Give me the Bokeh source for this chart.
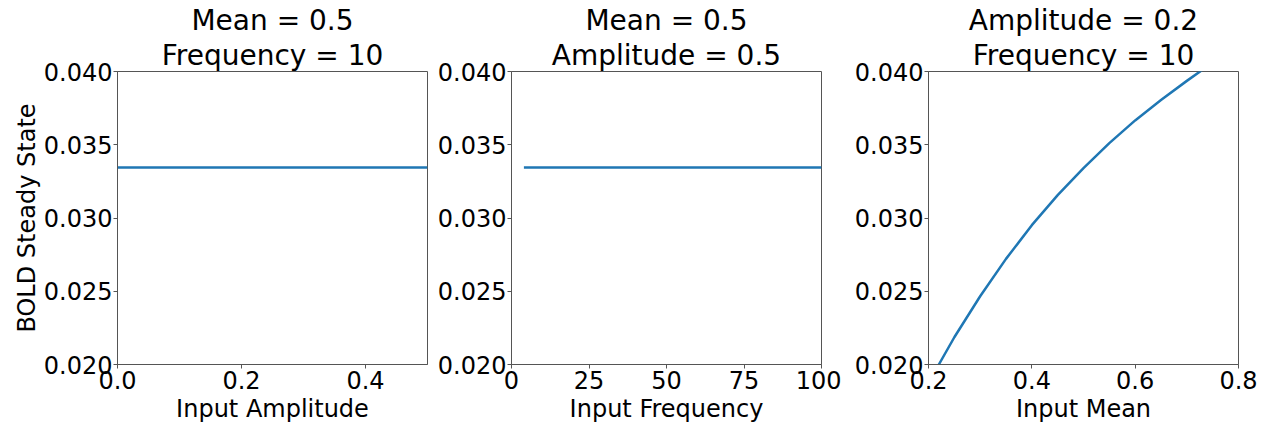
from bokeh.plotting import figure
from bokeh.layouts import row
from bokeh.models import Range1d, FixedTicker, PrintfTickFormatter, Title
from bokeh.embed import file_html
from bokeh.resources import INLINE

# ---- data ----
amp_x = [0.0, 0.1, 0.2, 0.3, 0.4, 0.5]
amp_y = [0.03345, 0.03345, 0.03345, 0.03345, 0.03345, 0.03345]

freq_x = [4, 25, 50, 75, 100]
freq_y = [0.03345, 0.03345, 0.03345, 0.03345, 0.03345]

mean_x = [0.22, 0.25, 0.30, 0.35, 0.40, 0.45, 0.50, 0.55, 0.60, 0.65, 0.70, 0.73]
mean_y = [0.0200, 0.02186, 0.02466, 0.02721, 0.02951, 0.03156, 0.03341,
          0.03511, 0.03666, 0.03806, 0.03936, 0.04011]

titles = [("Mean = 0.5", "Frequency = 10"),
          ("Mean = 0.5", "Amplitude = 0.5"),
          ("Amplitude = 0.2", "Frequency = 10")]
xlabels = ["Input Amplitude", "Input Frequency", "Input Mean"]
xranges = [(0.0, 0.5), (0, 100), (0.2, 0.8)]
xticks = [[0.0, 0.2, 0.4], [0, 25, 50, 75, 100], [0.2, 0.4, 0.6, 0.8]]
xfmt = ["%.1f", "%d", "%.1f"]
yticks = [0.020, 0.025, 0.030, 0.035, 0.040]
ylabel = "BOLD Steady State"

FONT = "DejaVu Sans"
BLUE = "#1f77b4"
FRAME_W, FRAME_H = 310, 293
borders = [(117, 2), (82, 20), (87, 28)]
data = [(amp_x, amp_y), (freq_x, freq_y), (mean_x, mean_y)]

figs = []
for i in range(3):
    bl, br = borders[i]
    p = figure(frame_width=FRAME_W, frame_height=FRAME_H,
               output_backend="svg", toolbar_location=None,
               x_range=Range1d(*xranges[i]), y_range=Range1d(0.020, 0.040),
               min_border_left=bl, min_border_right=br,
               min_border_top=71, min_border_bottom=59)
    p.title = None
    p.add_layout(Title(text=titles[i][1], align="center", text_font=FONT,
                       text_font_size="28px", text_font_style="normal",
                       text_color="black", standoff=0), "above")
    p.add_layout(Title(text=titles[i][0], align="center", text_font=FONT,
                       text_font_size="28px", text_font_style="normal",
                       text_color="black", standoff=0), "above")
    p.line(data[i][0], data[i][1], line_color=BLUE, line_width=2.5)
    p.grid.visible = False
    p.outline_line_color = "#555555"
    p.outline_line_width = 1
    p.background_fill_color = "white"
    p.border_fill_color = "white"

    xa = p.xaxis[0]
    xa.ticker = FixedTicker(ticks=xticks[i])
    xa.formatter = PrintfTickFormatter(format=xfmt[i])
    xa.axis_label = xlabels[i]
    ya = p.yaxis[0]
    ya.ticker = FixedTicker(ticks=yticks)
    ya.formatter = PrintfTickFormatter(format="%.3f")
    if i == 0:
        ya.axis_label = ylabel
    for ax in (xa, ya):
        ax.major_label_text_font = FONT
        ax.major_label_text_font_size = "24px"
        ax.major_label_text_color = "black"
        ax.axis_label_text_font = FONT
        ax.axis_label_text_font_size = "24px"
        ax.axis_label_text_font_style = "normal"
        ax.axis_label_text_color = "black"
        ax.axis_line_color = "#555555"
        ax.major_tick_line_color = "#555555"
        ax.major_tick_out = 4
        ax.major_tick_in = 0
        ax.minor_tick_line_color = None
        ax.major_label_standoff = 1
        ax.axis_label_standoff = 0
    xa.major_label_standoff = 2
    xa.axis_label_standoff = 3
    figs.append(p)

layout = row(*figs)
open("out.html", "w").write(file_html(layout, INLINE))
